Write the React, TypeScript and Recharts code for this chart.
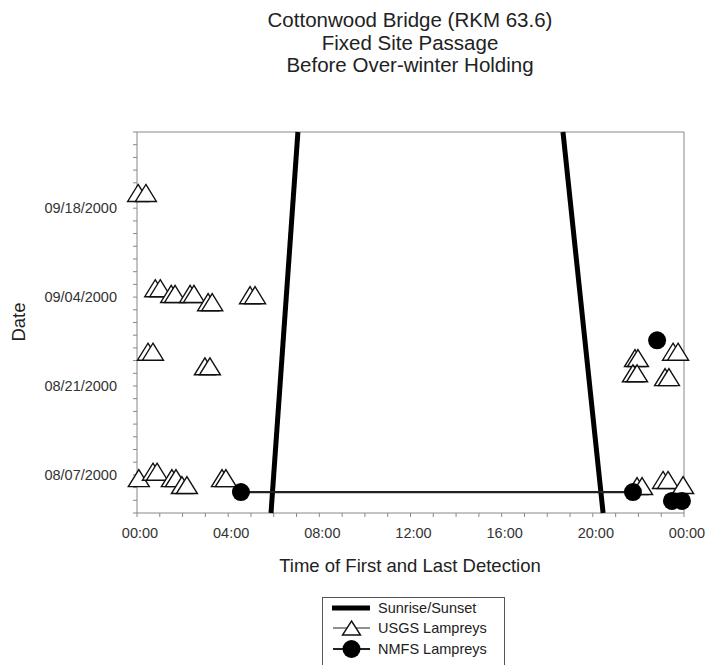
import React from 'react';
import { ScatterChart, Scatter, XAxis, YAxis, Legend, ReferenceLine } from 'recharts';

// x = time of day in hours (0-24), y = days since 08/01/2000
const hourTicks = [0, 1, 2, 3, 4, 5, 6, 7, 8, 9, 10, 11, 12, 13, 14, 15, 16, 17, 18, 19, 20, 21, 22, 23, 24];
const hourTickLabels = ['00:00', '04:00', '08:00', '12:00', '16:00', '20:00', '00:00'];
const dayTicks = [0, 2, 4, 6, 8, 10, 12, 14, 16, 18, 20, 22, 24, 26, 28, 30, 32, 34, 36, 38, 40, 42, 44, 46, 48, 50, 52, 54, 56, 58, 60];
const dateTickValues = [6, 20, 34, 48];
const dateTickLabels = ['08/07/2000', '08/21/2000', '09/04/2000', '09/18/2000'];
const xDomain = [0, 24];
const yDomain = [0, 60];

const sunrise = [
  { time: 5.88, day: 0 },
  { time: 7.06, day: 60 },
];
const sunset = [
  { time: 20.45, day: 0 },
  { time: 18.69, day: 60 },
];

const usgsLampreys = [
  { time: 0.05, day: 50.4 }, { time: 0.39, day: 50.4 },
  { time: 0.8, day: 35.4 }, { time: 1.02, day: 35.4 },
  { time: 1.5, day: 34.5 }, { time: 1.67, day: 34.5 },
  { time: 2.33, day: 34.5 }, { time: 2.5, day: 34.5 },
  { time: 3.12, day: 33.2 }, { time: 3.3, day: 33.2 },
  { time: 4.96, day: 34.3 }, { time: 5.18, day: 34.3 },
  { time: 0.48, day: 25.4 }, { time: 0.7, day: 25.4 },
  { time: 2.98, day: 23.1 }, { time: 3.2, day: 23.1 },
  { time: 0.08, day: 5.5 },
  { time: 0.7, day: 6.5 }, { time: 0.88, day: 6.5 },
  { time: 1.53, day: 5.5 }, { time: 1.71, day: 5.5 },
  { time: 1.97, day: 4.4 }, { time: 2.19, day: 4.4 },
  { time: 3.73, day: 5.5 }, { time: 3.9, day: 5.5 },
  { time: 21.85, day: 24.4 }, { time: 21.98, day: 24.4 },
  { time: 21.76, day: 22.0 }, { time: 21.94, day: 22.0 },
  { time: 23.52, day: 25.4 }, { time: 23.74, day: 25.4 },
  { time: 23.17, day: 21.4 }, { time: 23.34, day: 21.4 },
  { time: 21.94, day: 4.25 }, { time: 22.16, day: 4.25 },
  { time: 23.08, day: 5.2 }, { time: 23.3, day: 5.2 },
  { time: 23.96, day: 4.4 },
];

const nmfsLampreys = [
  { time: 4.56, day: 3.3 },
  { time: 21.76, day: 3.3 },
  { time: 22.82, day: 27.2 },
  { time: 23.47, day: 1.9 },
  { time: 23.91, day: 1.9 },
];
const nmfsTrack = [
  { time: 4.56, day: 3.3 },
  { time: 21.76, day: 3.3 },
];

const titleLines = ['Cottonwood Bridge (RKM 63.6)', 'Fixed Site Passage', 'Before Over-winter Holding'];
const legendItems = ['Sunrise/Sunset', 'USGS Lampreys', 'NMFS Lampreys'];

const FONT = 'Arial, "Liberation Sans", Helvetica, sans-serif';

const Triangle = (props: any) => {
  const { cx, cy } = props;
  if (cx == null || cy == null) return <g />;
  return (
    <polygon
      points={`${cx},${cy - 8.5} ${cx + 10.5},${cy + 8.5} ${cx - 10.5},${cy + 8.5}`}
      fill="#fff"
      stroke="#111"
      strokeWidth={1.4}
    />
  );
};

const Dot = (props: any) => {
  const { cx, cy } = props;
  if (cx == null || cy == null) return <g />;
  return <circle cx={cx} cy={cy} r={9} fill="#000" />;
};

const NoShape = () => <g />;

const xFormatter = (v: number) => (v % 4 === 0 ? hourTickLabels[v / 4] : '');
const yFormatter = (v: number) => {
  const i = dateTickValues.indexOf(v);
  return i >= 0 ? dateTickLabels[i] : '';
};

const LegendBox = () => (
  <svg width={184} height={80} style={{ display: 'block', fontFamily: FONT }}>
    <rect x={0.5} y={0.5} width={182} height={90} fill="#fff" stroke="#555" strokeWidth={1} />
    <line x1={10} x2={48} y1={11} y2={11} stroke="#000" strokeWidth={5} />
    <text x={56} y={11} fontSize={14.5} fill="#222" dominantBaseline="central">{legendItems[0]}</text>
    <line x1={11} x2={48} y1={31} y2={31} stroke="#222" strokeWidth={1.2} />
    <polygon points="29.5,24 38.5,38 20.5,38" fill="#fff" stroke="#111" strokeWidth={1.4} />
    <text x={56} y={31} fontSize={14.5} fill="#222" dominantBaseline="central">{legendItems[1]}</text>
    <line x1={11} x2={48} y1={52} y2={52} stroke="#222" strokeWidth={2} />
    <circle cx={29.5} cy={52} r={9} fill="#000" />
    <text x={56} y={52} fontSize={14.5} fill="#222" dominantBaseline="central">{legendItems[2]}</text>
  </svg>
);

export default function App() {
  return (
    <div style={{ position: 'absolute', left: 0, top: 0, width: 707, height: 665, background: '#fff', overflow: 'hidden' }}>
      <ScatterChart
        width={707}
        height={665}
        margin={{ top: 132, right: 23, bottom: 102, left: 37 }}
        style={{ fontFamily: FONT }}
      >
        <XAxis
          type="number"
          dataKey="time"
          domain={xDomain}
          ticks={hourTicks}
          interval={0}
          tickFormatter={xFormatter}
          height={50}
          tickSize={4}
          tickMargin={11}
          stroke="#888"
          tick={{ fill: '#333', fontSize: 14.5, dx: 3 }}
        />
        <YAxis
          type="number"
          dataKey="day"
          domain={yDomain}
          ticks={dayTicks}
          interval={0}
          tickFormatter={yFormatter}
          width={100}
          tickSize={4}
          tickMargin={16}
          stroke="#888"
          tick={{ fill: '#333', fontSize: 14.5 }}
        />
        <ReferenceLine y={yDomain[1]} stroke="#888" strokeWidth={1} />
        <ReferenceLine x={xDomain[1]} stroke="#888" strokeWidth={1} />
        <Scatter name="Sunrise/Sunset" data={sunrise} line={{ stroke: '#000', strokeWidth: 5 }} shape={NoShape} isAnimationActive={false} />
        <Scatter name="Sunset" data={sunset} line={{ stroke: '#000', strokeWidth: 5 }} shape={NoShape} legendType="none" isAnimationActive={false} />
        <Scatter name="NMFS track" data={nmfsTrack} line={{ stroke: '#222', strokeWidth: 2.2 }} shape={NoShape} legendType="none" isAnimationActive={false} />
        <Scatter name="USGS Lampreys" data={usgsLampreys} shape={Triangle} isAnimationActive={false} />
        <Scatter name="NMFS Lampreys" data={nmfsLampreys} shape={Dot} isAnimationActive={false} />
        <Legend
          layout="horizontal"
          verticalAlign="middle"
          align="center"
          content={LegendBox}
          wrapperStyle={{ left: 322, top: 597, width: 184, height: 80 }}
        />
      </ScatterChart>
      <svg
        width={707}
        height={665}
        style={{ position: 'absolute', left: 0, top: 0, pointerEvents: 'none', fontFamily: FONT }}
      >
        {titleLines.map((t, i) => (
          <text key={i} x={410} y={27 + i * 22.5} textAnchor="middle" fontSize={20.5} fill="#222">
            {t}
          </text>
        ))}
        <text x={410} y={572} textAnchor="middle" fontSize={18.5} fill="#222">
          Time of First and Last Detection
        </text>
        <text x={0} y={0} transform="translate(24.5 322) rotate(-90)" textAnchor="middle" fontSize={18.5} fill="#222">
          Date
        </text>
      </svg>
    </div>
  );
}
